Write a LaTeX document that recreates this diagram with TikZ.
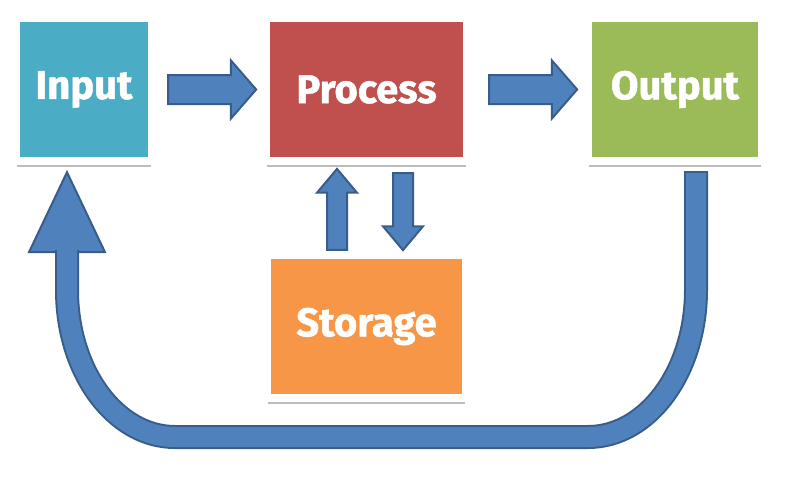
\documentclass[tikz,border=0pt]{standalone}
\usepackage{fontspec}
\newfontfamily\boxfont{Fira Sans}[BoldFeatures={FakeBold=1.2}]
\usetikzlibrary{shapes.arrows}

\definecolor{inputteal}{HTML}{4BACC6}
\definecolor{processred}{HTML}{C0504D}
\definecolor{outputgreen}{HTML}{9BBB59}
\definecolor{storageorange}{HTML}{F79646}
\definecolor{arrowblue}{HTML}{4F81BD}
\definecolor{arrowedge}{HTML}{385D8A}
\definecolor{shelfgray}{HTML}{BDBDBD}

\tikzset{
  stagebox/.style={rectangle, inner sep=0pt, minimum height=135pt, text=white,
    font=\boxfont\bfseries\fontsize{40}{40}\selectfont},
  flowarrow/.style={single arrow, draw=arrowedge, fill=arrowblue, line width=2pt,
    inner xsep=0pt, inner ysep=13.5pt, single arrow head extend=14.5pt,
    single arrow tip angle=98, minimum height=88pt, anchor=tail},
  stackarrow/.style={single arrow, draw=arrowedge, fill=arrowblue, line width=2pt,
    inner xsep=0pt, inner ysep=9pt, single arrow head extend=10pt,
    single arrow tip angle=80, anchor=tail},
  shelf/.style={draw=shelfgray, line width=2.5pt},
  loopline/.style={draw=arrowedge, line width=2pt, double=arrowblue, double distance=20pt},
  loophead/.style={draw=arrowedge, fill=arrowblue, line width=2pt, line join=miter}
}

\begin{document}
\begin{tikzpicture}[x=1pt,y=-1pt]
  \useasboundingbox (0,0) rectangle (785,485);
  % stages
  \node[stagebox, fill=inputteal, minimum width=128pt] (input) at (84,89.5) {Input};
  \node[stagebox, fill=processred, minimum width=193pt] (process) at (366.5,89.5) {Process};
  \node[stagebox, fill=outputgreen, minimum width=166pt] (output) at (675,89.5) {Output};
  \node[stagebox, fill=storageorange, minimum width=191pt] (storage) at (366.5,326.5) {Storage};
  % shelves under the boxes
  \foreach \n in {input,process,output,storage}
    \draw[shelf] ([xshift=-3pt,yshift=-9pt]\n.south west) -- ([xshift=3pt,yshift=-9pt]\n.south east);
  % flow arrows
  \path (input.east) -- (process.west) node[flowarrow, pos=0.156] {};
  \path (process.east) -- (output.west) node[flowarrow, pos=0.194] {};
  \path ([xshift=-29.5pt]storage.north) -- ([xshift=-29.5pt]process.south)
    node[stackarrow, rotate=90, minimum height=81pt, pos=0.078] {};
  \path ([xshift=36.5pt]process.south) -- ([xshift=36.5pt]storage.north)
    node[stackarrow, rotate=-90, minimum height=77pt, pos=0.147] {};
  % feedback loop
  \coordinate (loopstart) at ([xshift=21pt,yshift=-15pt]output.south);
  \coordinate (loopend) at ([xshift=-17pt,yshift=-93pt]input.south);
  \draw[loophead] ([yshift=78pt]loopend) -- ([xshift=-38pt,yshift=-2pt]loopend)
    -- ([xshift=38pt,yshift=-2pt]loopend) -- cycle;
  \draw[loopline] (loopstart) -- (696,290) .. controls (696,371) and (648,437) .. (588,437)
    -- (175,437) .. controls (115,437) and (67,371) .. (67,290) -- (loopend);
  \draw[arrowedge, line width=2pt] ([xshift=-12pt]loopstart) -- ([xshift=12pt]loopstart);
\end{tikzpicture}
\end{document}
